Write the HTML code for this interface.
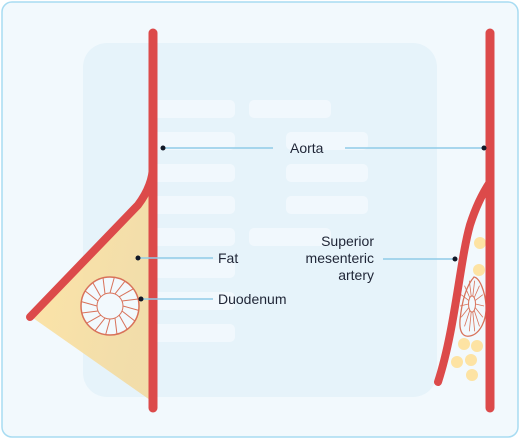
<!DOCTYPE html>
<html><head><meta charset="utf-8"><style>
html,body{margin:0;padding:0;background:#fff}
svg{display:block}
text{font-family:"Liberation Sans",sans-serif;font-size:14px;fill:#1f2536}
</style></head><body>
<svg width="520" height="441" viewBox="0 0 520 441">
<defs>
<linearGradient id="fatg" x1="0" y1="0" x2="1" y2="0.4">
<stop offset="0" stop-color="#fde3a3"/><stop offset="1" stop-color="#f2dca6"/></linearGradient>
</defs>
<rect x="2" y="2" width="516" height="435" rx="10" fill="#f2f9fd" stroke="#a8dcf2" stroke-width="1.5"/>
<rect x="83" y="43" width="354" height="354" rx="24" fill="#e6f3fa"/>
<g fill="#f1f8fd">
<rect x="150" y="100" width="85" height="18" rx="5"/>
<rect x="150" y="132" width="85" height="18" rx="5"/>
<rect x="150" y="164" width="85" height="18" rx="5"/>
<rect x="150" y="196" width="85" height="18" rx="5"/>
<rect x="150" y="228" width="85" height="18" rx="5"/>
<rect x="150" y="260" width="85" height="18" rx="5"/>
<rect x="150" y="292" width="85" height="18" rx="5"/>
<rect x="150" y="324" width="85" height="18" rx="5"/>
<rect x="249" y="100" width="82" height="18" rx="5"/>
<rect x="286" y="132" width="82" height="18" rx="5"/>
<rect x="286" y="164" width="82" height="18" rx="5"/>
<rect x="286" y="196" width="82" height="18" rx="5"/>
<rect x="249" y="228" width="82" height="18" rx="5"/>
</g>
<polygon points="150,192 33,318 150,400" fill="url(#fatg)" opacity="0.95"/>
<path d="M153,165 Q153,185 138,205 L30,317" fill="none" stroke="#dc4a4a" stroke-width="8" stroke-linecap="round"/>
<line x1="153" y1="33" x2="153" y2="408" stroke="#dc4a4a" stroke-width="9" stroke-linecap="round"/>
<g stroke="#d8725a" stroke-width="1">
<circle cx="110" cy="306" r="29" fill="#f2f9fd" stroke-width="1.5"/>
<circle cx="110" cy="306" r="13" fill="#f2f9fd"/>
<g id="spokes"></g>
</g>
<g fill="#fde3a3">
<circle cx="480" cy="243" r="6"/><circle cx="479" cy="270" r="6"/>
<circle cx="464" cy="344" r="6"/><circle cx="477" cy="346" r="6"/>
<circle cx="457" cy="362" r="6"/><circle cx="471" cy="360" r="6"/><circle cx="472" cy="375" r="6"/>
</g>
<path d="M474,277 C467,285 462,300 460,320 C459,335 465,337 470,336 C480,334 487,320 486,305 C485,292 480,278 474,277 Z" fill="#f2f9fd" stroke="#d8725a" stroke-width="1.3"/>
<g id="rspokes" stroke="#d8725a" stroke-width="0.8"></g>
<ellipse cx="472" cy="304" rx="3.5" ry="8" fill="#f2f9fd" stroke="#d8725a" stroke-width="1"/>
<path d="M490,182 Q478,200 470,225 C460,260 455,330 438,382" fill="none" stroke="#dc4a4a" stroke-width="8" stroke-linecap="round"/>
<line x1="490" y1="33" x2="490" y2="408" stroke="#dc4a4a" stroke-width="9" stroke-linecap="round"/>
<g stroke="#8fcbe8" stroke-width="1.5">
<line x1="163" y1="148" x2="273" y2="148"/><line x1="345" y1="148" x2="484" y2="148"/>
<line x1="138" y1="258" x2="213" y2="258"/><line x1="141" y1="299" x2="213" y2="299"/>
<line x1="383" y1="259" x2="455" y2="259"/>
</g>
<g fill="#111827">
<circle cx="163" cy="148" r="2.5"/><circle cx="484" cy="148" r="2.5"/>
<circle cx="138" cy="258" r="2.5"/><circle cx="141" cy="299" r="2.5"/><circle cx="455" cy="259" r="2.5"/>
</g>
<text x="290" y="153">Aorta</text>
<text x="218" y="263">Fat</text>
<text x="218" y="304">Duodenum</text>
<g text-anchor="end">
<text x="374" y="246">Superior</text><text x="374" y="263">mesenteric</text><text x="374" y="280">artery</text>
</g>
</svg>
<script>
var NS='http://www.w3.org/2000/svg';
var g=document.getElementById('spokes');
for(var i=0;i<16;i++){var a=i*Math.PI/8;var l=document.createElementNS(NS,'line');
l.setAttribute('x1',110+13*Math.cos(a));l.setAttribute('y1',306+13*Math.sin(a));
l.setAttribute('x2',110+29*Math.cos(a+0.15));l.setAttribute('y2',306+29*Math.sin(a+0.15));


g.appendChild(l);}
var r=document.getElementById('rspokes');
for(var j=0;j<14;j++){var b=j*Math.PI/7;var m=document.createElementNS(NS,'line');
m.setAttribute('x1',472+3.5*Math.cos(b));m.setAttribute('y1',304+8*Math.sin(b));
m.setAttribute('x2',472+12*Math.cos(b));m.setAttribute('y2',306+26*Math.sin(b));


r.appendChild(m);}
</script>
</body></html>
